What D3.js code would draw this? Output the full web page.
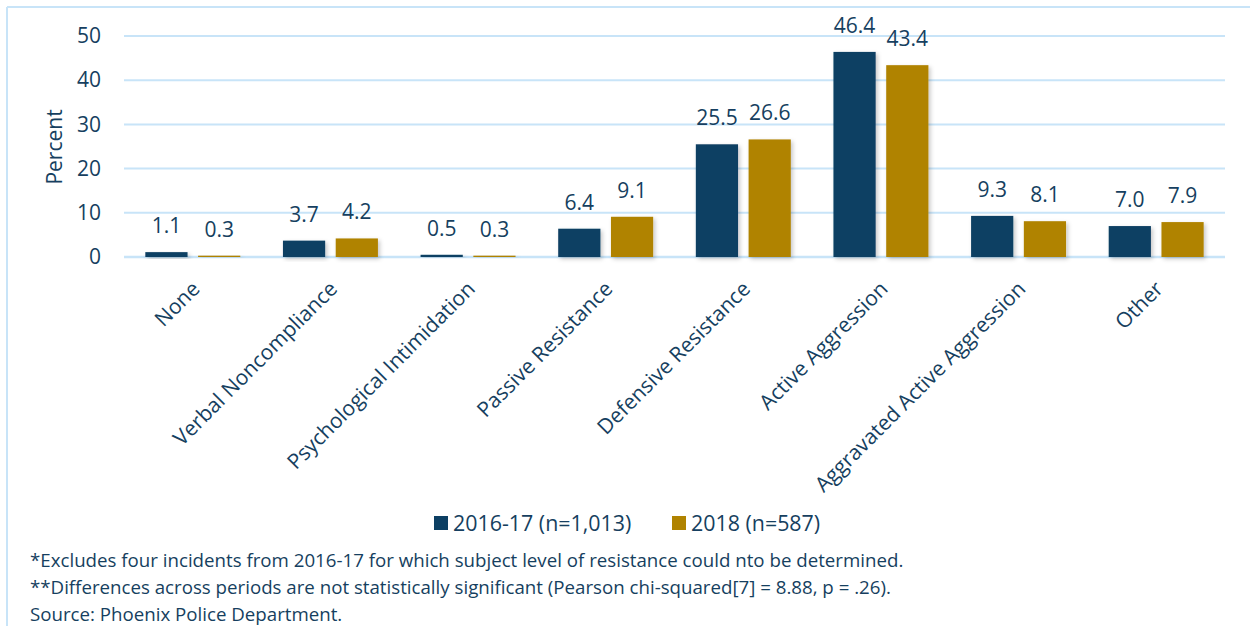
<!DOCTYPE html>
<html><head><meta charset="utf-8">
<script src="https://cdn.jsdelivr.net/npm/d3@7"></script>
<style>body{margin:0;background:#fff;} text{font-family:"Open Sans",sans-serif;}</style>
</head><body><svg id="c" width="1250" height="626"></svg>
<script>
const categories = ["None","Verbal Noncompliance","Psychological Intimidation","Passive Resistance","Defensive Resistance","Active Aggression","Aggravated Active Aggression","Other"];
const series = ["2016-17 (n=1,013)","2018 (n=587)"];
const values2016 = [1.1,3.7,0.5,6.4,25.5,46.4,9.3,7.0];
const values2018 = [0.3,4.2,0.3,9.1,26.6,43.4,8.1,7.9];
const yTicks = [0,10,20,30,40,50];
const footnotes = [
 "*Excludes four incidents from 2016-17 for which subject level of resistance could nto be determined.",
 "**Differences across periods are not statistically significant (Pearson chi-squared[7] = 8.88, p = .26).",
 "Source: Phoenix Police Department."
];
const colors = ["#0c3f63","#b08300"];
const textColor = "#163f60";
const gridColor = "#c8e4f8";

const svg = d3.select("#c");
const defs = svg.append("defs");
const f = defs.append("filter").attr("id","sh").attr("x","-20%").attr("y","-20%").attr("width","150%").attr("height","150%");
f.append("feDropShadow").attr("dx",2).attr("dy",2).attr("stdDeviation",2).attr("flood-color","#000").attr("flood-opacity",0.22);

// border
svg.append("line").attr("x1",7).attr("x2",1250).attr("y1",7).attr("y2",7).attr("stroke",gridColor).attr("stroke-width",2);
svg.append("line").attr("x1",7).attr("x2",7).attr("y1",7).attr("y2",626).attr("stroke",gridColor).attr("stroke-width",2);

const x0 = d3.scaleBand().domain(categories).range([124,1225]).paddingInner(0.31).paddingOuter(0.155);
const x1 = d3.scaleBand().domain(series).range([0,x0.bandwidth()]).paddingInner(0.2);
const y = d3.scaleLinear().domain([0,50]).range([257,36]);

// gridlines
svg.append("g").selectAll("line").data(yTicks).join("line")
  .attr("x1",124).attr("x2",1225).attr("y1",d=>y(d)).attr("y2",d=>y(d))
  .attr("stroke",gridColor).attr("stroke-width",d=>d===0?2.5:2);

// y axis labels
const yAxis = d3.axisLeft(y).tickValues(yTicks).tickSize(0).tickPadding(0);
const ya = svg.append("g").attr("transform","translate(101,0)").call(yAxis);
ya.select(".domain").remove();
ya.selectAll("text").attr("font-size",21).attr("fill",textColor).attr("font-family","Open Sans");

svg.append("text").attr("transform","translate(62,147) rotate(-90)").attr("text-anchor","middle")
  .attr("font-size",21).attr("fill",textColor).text("Percent");

const data = categories.map((c,i)=>({c, vals:[values2016[i],values2018[i]]}));
const g = svg.append("g").selectAll("g").data(data).join("g").attr("transform",d=>`translate(${x0(d.c)},0)`);
g.selectAll("rect").data(d=>d.vals.map((v,j)=>({v,s:series[j],j}))).join("rect")
  .attr("x",d=>x1(d.s)).attr("width",x1.bandwidth())
  .attr("y",d=>y(d.v)).attr("height",d=>y(0)-y(d.v))
  .attr("fill",d=>colors[d.j]).attr("filter","url(#sh)");
g.selectAll("text").data(d=>d.vals.map((v,j)=>({v,s:series[j],j}))).join("text")
  .attr("x",d=>x1(d.s)+x1.bandwidth()/2).attr("y",d=>y(d.v)-19)
  .attr("text-anchor","middle").attr("font-size",21).attr("fill",textColor)
  .text(d=>d.v.toFixed(1));

// x labels
svg.append("g").selectAll("text").data(categories).join("text")
  .attr("transform",d=>`translate(${x0(d)+x0.bandwidth()/2+3},285) rotate(-45)`)
  .attr("text-anchor","end").attr("dy","0.35em").attr("font-size",21).attr("fill",textColor)
  .text(d=>d);

// legend
const lx = [434,672];
const lg = svg.append("g").selectAll("g").data(series).join("g").attr("transform",(d,i)=>`translate(${lx[i]},516)`);
lg.append("rect").attr("width",14).attr("height",14).attr("fill",(d,i)=>colors[i]);
lg.append("text").attr("x",19).attr("y",7).attr("dy","0.35em").attr("font-size",21.4).attr("fill",textColor).text(d=>d);

// footnotes
svg.append("g").selectAll("text").data(footnotes).join("text")
  .attr("x",30).attr("y",(d,i)=>567+i*27).attr("font-size",18.7).attr("fill",textColor).text(d=>d);
</script></body></html>
